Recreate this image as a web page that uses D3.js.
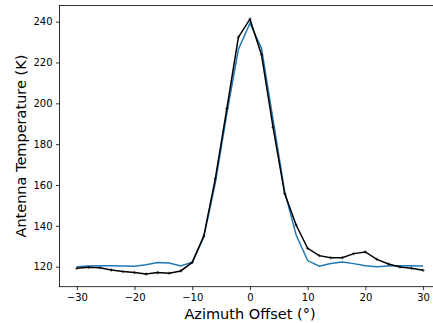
<!DOCTYPE html>
<html>
<head>
<meta charset="utf-8">
<script src="https://cdn.jsdelivr.net/npm/d3@7"></script>
<style>
  html, body { margin: 0; padding: 0; background: #fff; }
  svg { display: block; font-family: "DejaVu Sans", sans-serif; }
</style>
</head>
<body>
<svg id="chart"></svg>
<script>
const width = 433;
const height = 323;

// Azimuth offsets (deg), sampled every 2 degrees
const offsets = [-30, -28, -26, -24, -22, -20, -18, -16, -14, -12, -10, -8, -6, -4, -2, 0,
    2, 4, 6, 8, 10, 12, 14, 16, 18, 20, 22, 24, 26, 28, 30];

// Measured antenna temperature (black, with markers)
const measured = [119.2, 119.7, 119.5, 118.4, 117.6, 117.1, 116.4, 117.1, 116.8, 117.9, 122.1,
    135.0, 163.1, 197.5, 232.4, 241.2, 223.8, 188.3, 155.9, 140.4, 129.0, 125.4, 124.4, 124.4,
    126.4, 127.2, 123.6, 121.3, 119.9, 119.2, 118.2];

// Model (blue)
const model = [120.0, 120.3, 120.4, 120.4, 120.3, 120.2, 121.0, 122.1, 121.8, 120.3, 122.2,
    134.5, 161.0, 195.0, 226.5, 239.2, 227.0, 192.0, 157.0, 135.5, 123.0, 120.2, 121.6, 122.3,
    121.5, 120.5, 120.0, 120.3, 120.4, 120.4, 120.3];

const xTicks = [-30, -20, -10, 0, 10, 20, 30];
const yTicks = [120, 140, 160, 180, 200, 220, 240];

const plot = { left: 59.5, top: 5.5, right: 440.4, bottom: 286.7 };

const svg = d3.select("#chart").attr("width", width).attr("height", height);

const x = d3.scaleLinear().domain([-33, 33]).range([plot.left, plot.right]);
const y = d3.scaleLinear().domain([110.2, 247.9]).range([plot.bottom, plot.top]);

// axes
const xAxis = svg.append("g")
    .attr("transform", `translate(0,${plot.bottom})`)
    .call(d3.axisBottom(x).tickValues(xTicks).tickSize(3.5).tickPadding(3.5)
        .tickFormat(d => d < 0 ? "\u2212" + Math.abs(d) : d));
const yAxis = svg.append("g")
    .attr("transform", `translate(${plot.left},0)`)
    .call(d3.axisLeft(y).tickValues(yTicks).tickSize(3.5).tickPadding(3.5));

[xAxis, yAxis].forEach(g => {
    g.select(".domain").remove();
    g.selectAll(".tick line").attr("stroke", "#000").attr("stroke-width", 0.8);
    g.selectAll(".tick text").attr("fill", "#000").style("font-size", "10px")
        .style("font-family", "DejaVu Sans");
});

// spines
svg.append("rect")
    .attr("x", plot.left).attr("y", plot.top)
    .attr("width", plot.right - plot.left).attr("height", plot.bottom - plot.top)
    .attr("fill", "none").attr("stroke", "#000").attr("stroke-width", 0.8);

const line = d3.line().x(d => x(d[0])).y(d => y(d[1]));

svg.append("path")
    .datum(d3.zip(offsets, model))
    .attr("d", line)
    .attr("fill", "none").attr("stroke", "#1f77b4").attr("stroke-width", 1.5);

const meas = d3.zip(offsets, measured);
svg.append("path")
    .datum(meas)
    .attr("d", line)
    .attr("fill", "none").attr("stroke", "#000").attr("stroke-width", 1.5);

// small error-bar caps on measured points
const marks = svg.append("g").attr("stroke", "#000").attr("stroke-width", 0.7);
marks.selectAll("line.cap")
    .data(meas)
    .enter()
    .append("line")
    .attr("x1", d => x(d[0]) - 1.6).attr("x2", d => x(d[0]) + 1.6)
    .attr("y1", d => y(d[1])).attr("y2", d => y(d[1]));
marks.selectAll("line.bar")
    .data(meas)
    .enter()
    .append("line")
    .attr("x1", d => x(d[0])).attr("x2", d => x(d[0]))
    .attr("y1", d => y(d[1]) - 1.6).attr("y2", d => y(d[1]) + 1.6);

// axis labels
svg.append("text")
    .attr("x", 250).attr("y", 319)
    .attr("text-anchor", "middle")
    .style("font-size", "14.5px")
    .text("Azimuth Offset (°)");

svg.append("text")
    .attr("transform", `translate(26,${(plot.top + plot.bottom) / 2}) rotate(-90)`)
    .attr("text-anchor", "middle")
    .style("font-size", "14.5px")
    .text("Antenna Temperature (K)");
</script>
</body>
</html>
